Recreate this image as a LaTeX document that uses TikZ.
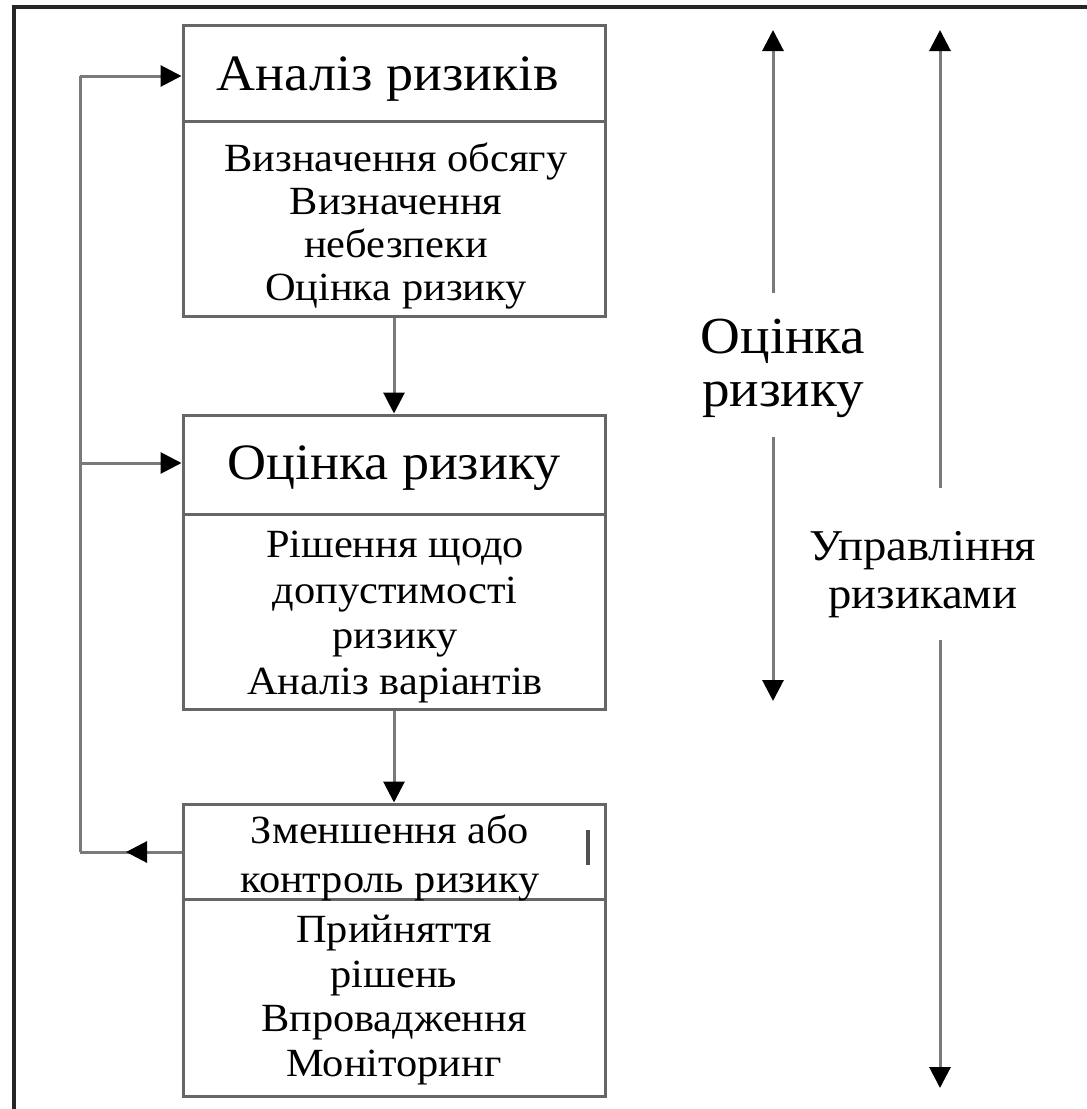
\documentclass[tikz,border=0pt]{standalone}
\usepackage{fontspec}
\setmainfont[FakeStretch=1.06]{Liberation Serif}
\usetikzlibrary{arrows.meta}
\definecolor{framec}{HTML}{262626}
\definecolor{boxc}{HTML}{666666}
\definecolor{linec}{HTML}{7A7A7A}
\tikzset{
  boxnode/.style={draw=boxc, line width=3pt, rectangle, minimum width=422pt, inner sep=0pt},
  divline/.style={draw=boxc, line width=3pt},
  lnk/.style={draw=linec, line width=3pt},
  arr/.style={lnk, -{Triangle[length=21pt,width=21pt,color=black]}},
  titletxt/.style={font=\fontsize{51}{54}\selectfont, align=center, inner sep=0pt},
  bodytxt/.style={font=\fontsize{40}{43}\selectfont, align=center, inner sep=0pt},
  sidetxt/.style={align=center, inner sep=0pt},
}
\begin{document}
\begin{tikzpicture}[x=1pt,y=-1pt]
\useasboundingbox (0,0) rectangle (1087,1109);
% outer frame
\draw[framec, line width=4pt] (14,1109) -- (14,7) -- (1087,7);

% boxes
\node[boxnode, minimum height=291pt] (b1) at (394,170.5) {};
\node[boxnode, minimum height=294pt] (b2) at (394,562) {};
\node[boxnode, minimum height=292pt] (b3) at (394,950) {};
\coordinate (d1) at (0,121);
\coordinate (d2) at (0,514);
\coordinate (d3) at (0,899);
\draw[divline] (b1.west |- d1) -- (b1.east |- d1);
\draw[divline] (b2.west |- d2) -- (b2.east |- d2);
\draw[divline] (b3.west |- d3) -- (b3.east |- d3);

% texts
\node[titletxt] (t1) at (388,79) {Аналіз ризиків};
\node[bodytxt] (x1) at (396,226) {Визначення обсягу\\Визначення\\небезпеки\\Оцінка ризику};
\node[titletxt] (t2) at (394,468) {Оцінка ризику};
\node[bodytxt, font=\fontsize{40}{45.5}\selectfont] (x2) at (395,617) {Рішення щодо\\допустимості\\ризику\\Аналіз варіантів};
\node[bodytxt, font=\fontsize{40}{49}\selectfont] (t3) at (390,858) {Зменшення або\\контроль ризику};
\node[bodytxt, font=\fontsize{40}{44.5}\selectfont] (x3) at (394,1000) {Прийняття\\рішень\\Впровадження\\Моніторинг};
\draw[line width=4pt, draw=framec!80] (588,830) -- (588,865);

% vertical arrows between boxes
\draw[arr] (b1) -- (b2);
\draw[arr] (b2) -- (b3);

% left feedback loop
\coordinate (loopTop) at (80,76);
\coordinate (loopMid) at (80,463);
\coordinate (loopBot) at (80,852);
\coordinate (tipL) at (126,852);
\draw[lnk] (loopBot) -- (loopTop);
\draw[arr] (loopTop) -- (b1.west |- loopTop);
\draw[arr] (loopMid) -- (b2.west |- loopMid);
\draw[lnk] (b3.west |- loopBot) -- (loopBot);
\draw[arr] (b3.west |- loopBot) -- (tipL);

% right side labels and arrows
\node[sidetxt, font=\fontsize{52}{53}\selectfont] (s1) at (783,368) {Оцінка\\ризику};
\node[sidetxt, font=\fontsize{44}{48}\selectfont] (s2) at (923,575) {Управління\\ризиками};
\coordinate (r1top) at (773,30);
\coordinate (r1a) at (773,293);
\coordinate (r1b) at (773,437);
\coordinate (r1bot) at (773,701);
\coordinate (r2top) at (940,30);
\coordinate (r2a) at (940,488);
\coordinate (r2b) at (940,640);
\coordinate (r2bot) at (940,1088);
\draw[arr] (r1a) -- (r1top);
\draw[arr] (r1b) -- (r1bot);
\draw[arr] (r2a) -- (r2top);
\draw[arr] (r2b) -- (r2bot);
\end{tikzpicture}
\end{document}
